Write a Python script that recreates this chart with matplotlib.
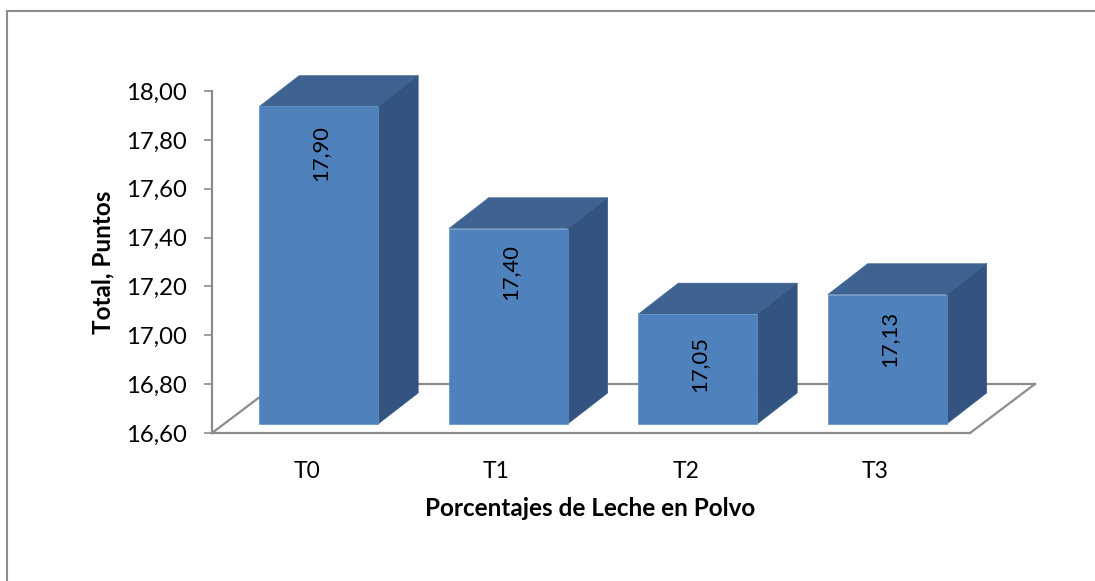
import matplotlib
matplotlib.use("Agg")
import matplotlib.pyplot as plt
from matplotlib.patches import Polygon
from matplotlib.lines import Line2D
from matplotlib.transforms import ScaledTranslation, IdentityTransform

categories = ["T0", "T1", "T2", "T3"]
values = [17.90, 17.40, 17.05, 17.13]
value_labels = ["17,90", "17,40", "17,05", "17,13"]
y_ticks = [16.6, 16.8, 17.0, 17.2, 17.4, 17.6, 17.8, 18.0]
y_tick_labels = ["16,60", "16,80", "17,00", "17,20", "17,40", "17,60", "17,80", "18,00"]

W, H = 1095, 581
DPI = 100
plt.rcParams['font.family'] = ['Lato', 'DejaVu Sans']
GREY = "#8c8c8c"
FRONT, TOP, SIDE = "#4f81bd", "#3e6390", "#335380"

fig = plt.figure(figsize=(W / DPI, H / DPI), dpi=DPI, facecolor="white")
ax = fig.add_axes([212 / W, 1 - 433 / H, (970 - 212) / W, (433 - 91) / H])
ax.set_xlim(0, 4)
ax.set_ylim(16.6, 18.0)
ax.patch.set_visible(False)
PX = IdentityTransform()


def shifted(dx, dy):
    return ax.transData + ScaledTranslation(dx / DPI, dy / DPI, fig.dpi_scale_trans)


# floor
BACK = (65, 49)
floor = shifted(*BACK)
ax.add_line(Line2D([0, 4], [16.6, 16.6], color=GREY, lw=1.6, transform=floor, clip_on=False, zorder=1))
for xv in (0, 4):
    c = ax.transData.transform((xv, 16.6))
    ax.add_line(Line2D([c[0], c[0] + BACK[0]], [c[1], c[1] + BACK[1]], color=GREY, lw=1.6,
                       transform=PX, clip_on=False, zorder=1))

# bars: front face is moved off the axis plane; depth faces follow
FRONT_OFF = (12, 9)
DEPTH = (40, 31)
BAR_W = 0.628
front_tr = shifted(*FRONT_OFF)
for i, v in enumerate(values):
    x0, x1 = i + 0.5 - BAR_W / 2, i + 0.5 + BAR_W / 2
    br, tr, tl = front_tr.transform([(x1, 16.6), (x1, v), (x0, v)])
    d = DEPTH
    ax.add_patch(Polygon([tl, tr, (tr[0] + d[0], tr[1] + d[1]), (tl[0] + d[0], tl[1] + d[1])],
                         closed=True, transform=PX, facecolor=TOP, edgecolor=TOP, lw=0.3,
                         zorder=3, clip_on=False))
    ax.add_patch(Polygon([br, tr, (tr[0] + d[0], tr[1] + d[1]), (br[0] + d[0], br[1] + d[1])],
                         closed=True, transform=PX, facecolor=SIDE, edgecolor=SIDE, lw=0.3,
                         zorder=3, clip_on=False))

ax.bar([i + 0.5 for i in range(4)], [v - 16.6 for v in values], bottom=16.6, width=BAR_W,
       color=FRONT, edgecolor="#5f8dc6", linewidth=0.5, transform=front_tr, zorder=5, clip_on=False)

# distance of each value label below its bar's top edge, in pixels
label_drop = [47, 43, 50, 44]
for i, (v, s) in enumerate(zip(values, value_labels)):
    ax.annotate(s, xy=(i + 0.5, v), xycoords=front_tr, xytext=(2 * 72 / DPI, -label_drop[i] * 72 / DPI),
                textcoords="offset points", rotation=90, ha="center", va="center",
                fontsize=15.8, color="black", zorder=6)

# axes
for name in ("top", "right"):
    ax.spines[name].set_visible(False)
for name in ("left", "bottom"):
    ax.spines[name].set_color(GREY)
    ax.spines[name].set_linewidth(1.6)
ax.set_xticks([i + 0.5 for i in range(4)], categories)
ax.set_yticks(y_ticks, y_tick_labels)
ax.tick_params(axis="x", length=0, pad=20, labelsize=16.5, labelcolor="black")
ax.tick_params(axis="y", length=6, width=1.2, color=GREY, pad=12, labelsize=17.2, labelcolor="black")

fig.text(590 / W, 1 - 508 / H, "Porcentajes de Leche en Polvo", ha="center", va="center",
         fontsize=17.5, fontweight="bold")
fig.text(103 / W, 1 - 262 / H, "Total, Puntos", rotation=90, ha="center", va="center",
         fontsize=17.5, fontweight="bold")

# chart frame
fig.add_artist(Line2D([6.5 / W, 6.5 / W], [0, 1 - 10.5 / H], color=GREY, lw=1.5))
fig.add_artist(Line2D([6.5 / W, 1], [1 - 10.5 / H, 1 - 10.5 / H], color=GREY, lw=1.5))

fig.savefig("out.png", dpi=DPI)
